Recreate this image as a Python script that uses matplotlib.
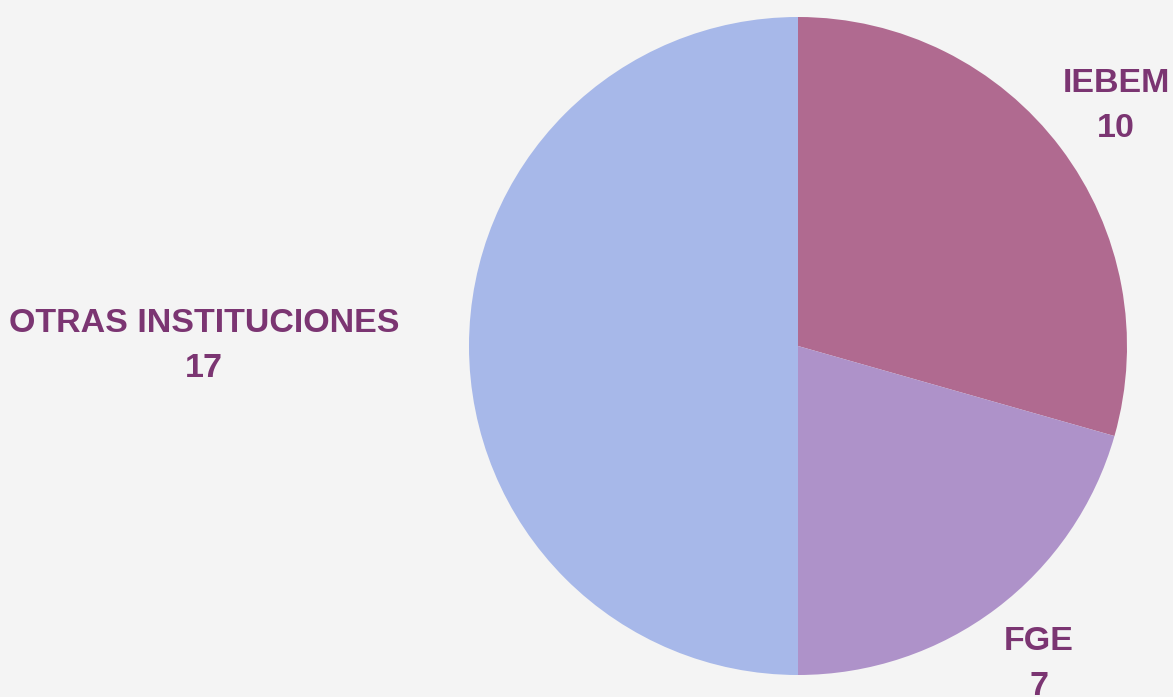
import matplotlib
matplotlib.use('Agg')
import matplotlib.pyplot as plt

# data
labels = ['IEBEM', 'FGE', 'OTRAS INSTITUCIONES']
values = [10, 7, 17]
colors = ['#b06a90', '#ae92c9', '#a7b8e9']
# label anchor points (pixels, from top-left)
label_pos = [(1116, 106), (1039, 664), (204, 346)]

W, H = 1173, 697
fig = plt.figure(figsize=(W / 100, H / 100), dpi=100)
fig.patch.set_facecolor('#f4f4f4')
ax = fig.add_axes([0, 0, 1, 1])
ax.set_facecolor('#f4f4f4')

ax.pie(values, colors=colors, startangle=90, counterclock=False,
       center=(798, H - 346), radius=329, frame=True,
       wedgeprops=dict(linewidth=0))
ax.set_xlim(0, W)
ax.set_ylim(0, H)
ax.axis('off')

for lab, v, (x, y) in zip(labels, values, label_pos):
    ax.text(x, H - y, f'{lab}\n{v}', ha='center', va='center',
            fontsize=24.5, fontweight='bold', color='#7b3572',
            family='Liberation Sans', linespacing=1.55)

fig.savefig('out.png', dpi=100, facecolor=fig.get_facecolor())
